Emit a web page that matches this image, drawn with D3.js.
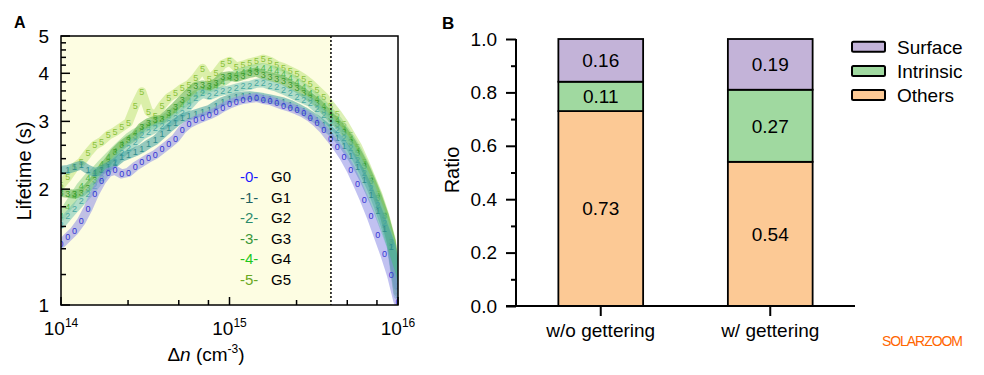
<!DOCTYPE html>
<html>
<head>
<meta charset="utf-8">
<script src="https://cdn.jsdelivr.net/npm/d3@7"></script>
<style>
  body { margin: 0; background: #fff; }
  text { font-family: "Liberation Sans", Arial, sans-serif; }
</style>
</head>
<body>
<div id="chart"></div>
<script>
const width = 984;
const height = 375;

// ---- panel A data: lifetime (s) vs injection level, exponent of Δn (cm^-3)
const densityExp = [14.00,14.04,14.08,14.12,14.16,14.20,14.24,14.28,14.32,14.36,14.40,14.44,14.48,14.52,14.56,14.60,14.64,14.68,14.72,14.76,14.80,14.84,14.88,14.92,14.96,15.00,15.04,15.08,15.12,15.16,15.20,15.24,15.28,15.32,15.36,15.40,15.44,15.48,15.52,15.56,15.60,15.64,15.68,15.72,15.76,15.80,15.84,15.88,15.92,15.96,16.00];
const lifeG0 = [1.44,1.50,1.56,1.65,1.78,1.95,2.10,2.21,2.24,2.19,2.21,2.29,2.35,2.41,2.46,2.54,2.62,2.71,2.86,2.96,3.02,3.07,3.12,3.18,3.26,3.33,3.38,3.42,3.44,3.46,3.42,3.40,3.35,3.30,3.26,3.21,3.15,3.07,2.97,2.85,2.71,2.57,2.42,2.25,2.06,1.88,1.70,1.52,1.36,1.20,1.02];
const lifeG1 = [2.24,2.25,2.28,2.31,2.25,2.21,2.24,2.29,2.34,2.42,2.46,2.50,2.55,2.62,2.68,2.78,2.88,2.98,3.06,3.10,3.14,3.18,3.22,3.30,3.38,3.43,3.47,3.49,3.50,3.48,3.46,3.43,3.40,3.37,3.32,3.26,3.19,3.11,3.03,2.93,2.83,2.72,2.59,2.44,2.28,2.11,1.93,1.76,1.58,1.42,1.12];
const lifeG2 = [1.62,1.70,1.78,1.86,1.94,2.04,2.14,2.26,2.36,2.48,2.56,2.66,2.76,2.82,2.88,2.92,2.98,3.06,3.16,3.30,3.45,3.55,3.50,3.56,3.60,3.62,3.66,3.70,3.72,3.77,3.78,3.72,3.68,3.62,3.55,3.48,3.42,3.36,3.24,3.12,2.98,2.86,2.72,2.56,2.38,2.20,2.02,1.82,1.63,1.42,1.06];
const lifeG3 = [1.96,1.95,1.94,1.96,2.02,2.12,2.25,2.36,2.50,2.60,2.68,2.75,2.90,2.98,3.02,3.04,3.16,3.28,3.42,3.56,3.70,3.73,3.70,3.78,3.92,3.94,3.90,3.95,4.00,4.03,3.96,3.92,3.88,3.83,3.74,3.66,3.56,3.46,3.36,3.22,3.08,2.96,2.82,2.66,2.48,2.30,2.10,1.90,1.70,1.46,1.08];
const lifeG4 = [1.70,1.80,1.92,2.04,2.14,2.22,2.32,2.42,2.52,2.62,2.72,2.80,2.86,2.92,2.96,3.02,3.10,3.20,3.32,3.40,3.52,3.60,3.66,3.72,3.80,3.90,3.98,4.04,4.08,4.12,4.14,4.10,4.06,3.98,3.90,3.80,3.68,3.56,3.44,3.30,3.16,3.02,2.86,2.70,2.52,2.32,2.12,1.92,1.70,1.46,1.08];
const lifeG5 = [2.05,2.15,2.28,2.35,2.48,2.60,2.66,2.76,2.82,2.90,2.98,3.30,3.58,3.18,3.10,3.30,3.46,3.55,3.66,3.74,3.90,4.12,3.86,4.00,4.22,4.30,4.15,4.20,4.26,4.30,4.36,4.30,4.20,4.14,4.06,3.98,3.88,3.76,3.62,3.48,3.30,3.14,2.96,2.76,2.58,2.36,2.14,1.94,1.72,1.48,1.10];
const seriesNames = ["G0","G1","G2","G3","G4","G5"];
const seriesMarks = ["0","1","2","3","4","5"];
const shadeLimit = 4e15;   // dotted line, end of the yellow region
const yTicksA = [1,2,3,4,5];
const xTicksA = [1e14,1e15,1e16];
const xTickSupA = ["14","15","16"];
const xMinorA = [2.5e14,5e14,7.5e14,2.5e15,5e15,7.5e15];

// ---- panel B data: stacked ratios
const groups = ["w/o gettering","w/ gettering"];
const parts = ["Others","Intrinsic","Surface"];
const others = [0.73, 0.54];
const intrinsic = [0.11, 0.27];
const surface = [0.16, 0.19];
const yTicksB = [0,0.2,0.4,0.6,0.8,1.0];

const markColor = ["#3434d4","#2f8c8c","#48a8a0","#3a9a2c","#4cb84c","#8cc23c"];
const bandColor = ["#8e8ee6","#3f9f9f","#72c2b4","#5aae48","#92d48a","#bfe37a"];
const legColor  = ["#1a1aff","#1f6060","#2a8a6c","#3a963a","#1ec81e","#6aa822"];
const partColor = {Others:"#fcc995", Intrinsic:"#a0d9a0", Surface:"#c3b3d8"};

const svg = d3.select("#chart").append("svg")
    .attr("width", width)
    .attr("height", height);

// ================= Panel A =================
const xA = d3.scaleLog().domain([1e14,1e16]).range([61,398]);
const yA = d3.scaleLog().domain([1,5]).range([305,36]);
const gA = svg.append("g");

gA.append("clipPath").attr("id","clipA")
  .append("rect").attr("x",61).attr("y",36).attr("width",337).attr("height",269);

gA.append("rect")
    .attr("x", xA(1e14)).attr("y", yA(5))
    .attr("width", xA(shadeLimit) - xA(1e14))
    .attr("height", yA(1) - yA(5))
    .attr("fill", "#fdfde2");

const allSeries = [lifeG0,lifeG1,lifeG2,lifeG3,lifeG4,lifeG5].map((vals,i) => ({
    name: seriesNames[i], mark: seriesMarks[i], i: i,
    pts: vals.map((v,j) => ({x: Math.pow(10, densityExp[j]), y: v}))
}));

const line = d3.line().x(d => xA(d.x)).y(d => yA(d.y));
const plot = gA.append("g").attr("clip-path","url(#clipA)");

// draw G5 first so the blue ends up on top
allSeries.slice().reverse().forEach(s => {
    const g = plot.append("g");
    g.append("path")
        .attr("d", line(s.pts))
        .attr("fill","none")
        .attr("stroke", bandColor[s.i])
        .attr("stroke-opacity", 0.55)
        .attr("stroke-width", 9)
        .attr("stroke-linejoin","round")
        .attr("stroke-linecap","round");
    g.selectAll("text")
        .data(s.pts)
        .enter()
        .append("text")
        .attr("x", d => xA(d.x))
        .attr("y", d => yA(d.y))
        .attr("dy","0.35em")
        .attr("text-anchor","middle")
        .attr("font-size", 9)
        .attr("fill", markColor[s.i])
        .text(s.mark);
});

gA.append("line")
    .attr("x1", xA(shadeLimit)).attr("x2", xA(shadeLimit))
    .attr("y1", yA(5)).attr("y2", yA(1))
    .attr("stroke","#000").attr("stroke-width",1.5)
    .attr("stroke-dasharray","2,2");

// ticks on the inside
const yMinorA = d3.range(1.2, 4.9, 0.2).filter(v => Math.abs(v - Math.round(v)) > 0.05);
gA.selectAll(".ymin").data(yMinorA).enter().append("line")
    .attr("x1",61).attr("x2",66).attr("y1",d=>yA(d)).attr("y2",d=>yA(d))
    .attr("stroke","#000").attr("stroke-width",1.5);
gA.selectAll(".ymaj").data(yTicksA).enter().append("line")
    .attr("x1",61).attr("x2",70).attr("y1",d=>yA(d)).attr("y2",d=>yA(d))
    .attr("stroke","#000").attr("stroke-width",1.5);
gA.selectAll(".xmin").data(xMinorA).enter().append("line")
    .attr("x1",d=>xA(d)).attr("x2",d=>xA(d)).attr("y1",305).attr("y2",300)
    .attr("stroke","#000").attr("stroke-width",1.5);
gA.selectAll(".xmaj").data(xTicksA).enter().append("line")
    .attr("x1",d=>xA(d)).attr("x2",d=>xA(d)).attr("y1",305).attr("y2",297)
    .attr("stroke","#000").attr("stroke-width",1.5);

gA.append("rect")
    .attr("x",61).attr("y",36).attr("width",337).attr("height",269)
    .attr("fill","none").attr("stroke","#000").attr("stroke-width",1.5);

gA.selectAll(".ylab").data(yTicksA).enter().append("text")
    .attr("x",49).attr("y",d=>yA(d)).attr("dy","0.36em")
    .attr("text-anchor","end").attr("font-size",19)
    .text(d => d);

const xl = gA.selectAll(".xlab").data(xTicksA).enter().append("text")
    .attr("x",d=>xA(d)).attr("y",335)
    .attr("text-anchor","middle").attr("font-size",19);
xl.append("tspan").text("10");
xl.append("tspan").attr("dy",-8).attr("font-size",12).text((d,i)=>xTickSupA[i]);

gA.append("text")
    .attr("transform","translate(31,171) rotate(-90)")
    .attr("text-anchor","middle").attr("font-size",20)
    .text("Lifetime (s)");

const xt = gA.append("text").attr("x",206).attr("y",361)
    .attr("text-anchor","middle").attr("font-size",19);
xt.append("tspan").text("Δ");
xt.append("tspan").attr("font-style","italic").text("n");
xt.append("tspan").text(" (cm");
xt.append("tspan").attr("dy",-8).attr("font-size",12).text("-3");
xt.append("tspan").attr("dy",8).text(")");

const legA = gA.selectAll(".legA").data(allSeries).enter().append("g")
    .attr("transform",(d,i)=>"translate(0," + (176.7 + i*20.6) + ")");
legA.append("text").attr("x",240).attr("dy","0.35em").attr("font-size",15)
    .attr("fill",d=>legColor[d.i]).text(d=>"-" + d.mark + "-");
legA.append("text").attr("x",271).attr("dy","0.35em").attr("font-size",15)
    .attr("fill","#000").text(d=>d.name);

gA.append("text").attr("x",14).attr("y",28)
    .attr("font-size",16).attr("font-weight","bold").text("A");

// ================= Panel B =================
const xB = d3.scaleBand().domain(groups).range([516,855]).paddingInner(0.5).paddingOuter(0.25);
const yB = d3.scaleLinear().domain([0,1]).range([306,39]);
const gB = svg.append("g");

const table = groups.map((g,i) => ({group:g, Others:others[i], Intrinsic:intrinsic[i], Surface:surface[i]}));
const stacked = d3.stack().keys(parts)(table);

stacked.forEach(layer => {
    const lg = gB.append("g");
    lg.selectAll("rect").data(layer).enter().append("rect")
        .attr("x", d => xB(d.data.group))
        .attr("y", d => yB(d[1]))
        .attr("width", xB.bandwidth())
        .attr("height", d => yB(d[0]) - yB(d[1]))
        .attr("fill", partColor[layer.key])
        .attr("stroke","#000").attr("stroke-width",1.8);
    lg.selectAll("text").data(layer).enter().append("text")
        .attr("x", d => xB(d.data.group) + xB.bandwidth()/2)
        .attr("y", d => yB((d[0]+d[1])/2))
        .attr("dy","0.36em")
        .attr("text-anchor","middle").attr("font-size",19)
        .text(d => d3.format(".2f")(d[1]-d[0]));
});

const yAxisB = gB.append("g").attr("transform","translate(516,0)")
    .call(d3.axisLeft(yB).tickValues(yTicksB).tickFormat(d3.format(".1f")).tickSize(10).tickSizeOuter(0));
yAxisB.select(".domain").remove();
yAxisB.selectAll("line").attr("stroke-width",2);
yAxisB.selectAll("text").attr("font-size",19).attr("font-family",null).attr("x",-19);

const yMinorB = gB.append("g").attr("transform","translate(516,0)")
    .call(d3.axisLeft(yB).tickValues([0.1,0.3,0.5,0.7,0.9]).tickFormat("").tickSize(5).tickSizeOuter(0));
yMinorB.select(".domain").remove();
yMinorB.selectAll("line").attr("stroke-width",2);

const xAxisB = gB.append("g").attr("transform","translate(0,306)")
    .call(d3.axisBottom(xB).tickSize(10).tickSizeOuter(0));
xAxisB.select(".domain").remove();
xAxisB.selectAll("line").attr("stroke-width",2);
xAxisB.selectAll("text").attr("font-size",19).attr("font-family",null).attr("y",18).attr("dy","0.71em");

gB.append("line").attr("x1",516).attr("x2",516).attr("y1",yB(0)).attr("y2",yB(1))
    .attr("stroke","#000").attr("stroke-width",2);
gB.append("line").attr("x1",506).attr("x2",855).attr("y1",yB(0)).attr("y2",yB(0))
    .attr("stroke","#000").attr("stroke-width",2);

gB.append("text")
    .attr("transform","translate(459,170) rotate(-90)")
    .attr("text-anchor","middle").attr("font-size",20)
    .text("Ratio");

const legB = gB.selectAll(".legB").data(parts.slice().reverse()).enter().append("g")
    .attr("transform",(d,i)=>"translate(0," + (46.7 + i*24.2) + ")");
legB.append("rect").attr("x",852).attr("y",-5).attr("width",33).attr("height",10)
    .attr("rx",1.5).attr("fill",d=>partColor[d]).attr("stroke","#000").attr("stroke-width",2);
legB.append("text").attr("x",897).attr("dy","0.36em").attr("font-size",19).text(d=>d);

gB.append("text").attr("x",442).attr("y",29)
    .attr("font-size",17).attr("font-weight","bold").text("B");

svg.append("text").attr("x",882).attr("y",346)
    .attr("font-family","'DejaVu Sans Mono', monospace")
    .attr("font-size",14).attr("fill","#ff6600")
    .attr("textLength",81)
    .text("SOLARZOOM");
</script>
</body>
</html>
